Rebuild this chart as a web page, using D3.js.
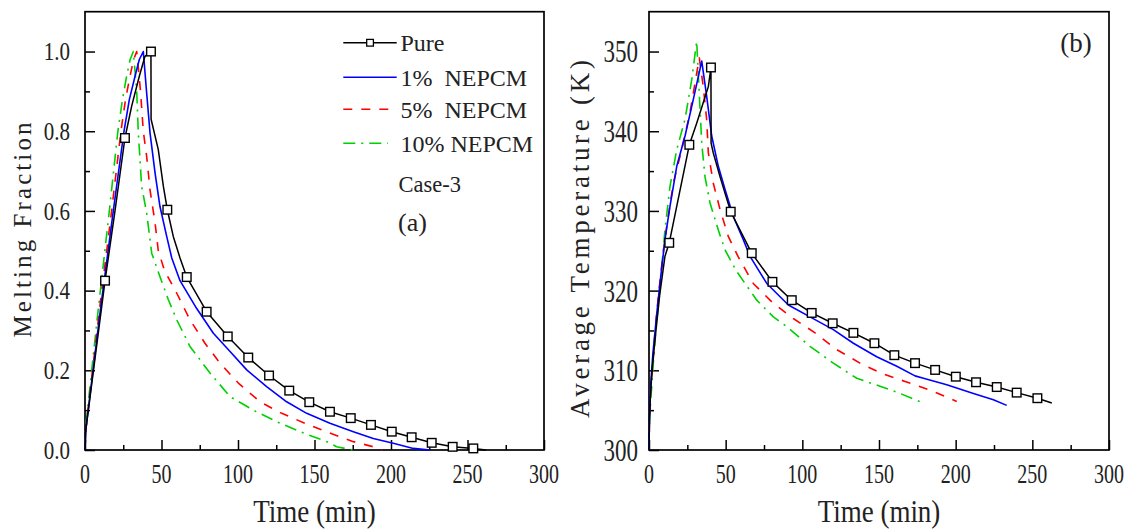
<!DOCTYPE html>
<html><head><meta charset="utf-8">
<script src="https://cdn.jsdelivr.net/npm/d3@7"></script>
<style>
html,body{margin:0;padding:0;background:#fff;}
svg{display:block;}
text{font-family:"Liberation Serif","Times New Roman",serif;fill:#222;}
</style></head><body>
<svg id="chart" width="1135" height="532"></svg>
<script>
// ---------- data ----------
const timeTicks = [0, 50, 100, 150, 200, 250, 300];
const timeMinor = [25, 75, 125, 175, 225, 275];
const meltTicks = [0, 0.2, 0.4, 0.6, 0.8, 1.0];
const meltMinor = [0.1, 0.3, 0.5, 0.7, 0.9];
const tempTicks = [300, 310, 320, 330, 340, 350];
const tempMinor = [305, 315, 325, 335, 345];
const seriesNames = ["Pure", "1%  NEPCM", "5%  NEPCM", "10% NEPCM"];

// (a) melting fraction vs time [min, fraction]
const meltPure = [[0,0],[0.5,0.05],[13.1,0.425],[19.6,0.6],[26.1,0.783],[30.5,0.863],[35.5,0.938],[39.2,0.988],[43.1,1.0],[43.2,0.83],[47.9,0.754],[51.2,0.662],[53.8,0.603],[57.7,0.536],[62.1,0.482],[66.5,0.434],[79.5,0.347],[93.3,0.285],[106.7,0.232],[120.3,0.187],[133.5,0.149],[146.6,0.120],[160.1,0.096],[173.7,0.080],[186.9,0.063],[200.5,0.046],[213.5,0.032],[226.6,0.018],[240.3,0.008],[253.8,0.004],[262,0]];
const meltPureMarks = [13.1,26.1,43.1,53.8,66.5,79.5,93.3,106.7,120.3,133.5,146.6,160.1,173.7,186.9,200.5,213.5,226.6,240.3,253.8];
const melt1 = [[0,0],[0.5,0.05],[10,0.35],[18.5,0.6],[25.5,0.8],[29,0.88],[32.7,0.938],[35.5,0.98],[38.1,1.0],[40.3,0.896],[42.5,0.796],[45.8,0.695],[49,0.611],[53.4,0.536],[56.7,0.482],[62.1,0.425],[73,0.355],[83.9,0.293],[94.8,0.247],[105.7,0.201],[118.7,0.159],[131.8,0.121],[144.9,0.092],[160.1,0.067],[175.4,0.046],[188.4,0.029],[201.5,0.017],[214.6,0.004],[225.5,0]];
const melt5 = [[0,0],[0.5,0.05],[10,0.37],[17.4,0.6],[23.5,0.8],[26.5,0.88],[29.4,0.938],[31.8,0.98],[33.8,1.0],[36.3,0.9],[38.1,0.8],[40.3,0.737],[42.5,0.653],[45.8,0.57],[47.9,0.5],[52,0.45],[59.9,0.394],[68.6,0.327],[78.4,0.268],[88.2,0.218],[100.2,0.168],[114.4,0.121],[128.6,0.092],[143.8,0.067],[159,0.044],[175.4,0.021],[189.5,0.007],[194,0]];
const melt10 = [[0,0],[0.5,0.06],[8,0.33],[15.9,0.6],[21.5,0.8],[24.5,0.88],[27.2,0.938],[29.5,0.98],[31.6,1.0],[33.8,0.9],[34.8,0.8],[37,0.662],[40.3,0.595],[43.6,0.494],[49,0.435],[54.5,0.377],[59.9,0.327],[68.6,0.26],[81.7,0.193],[94.8,0.134],[110,0.1],[125.3,0.071],[140.5,0.046],[158,0.021],[164.5,0.008],[175,0]];

// (b) average temperature vs time [min, K]
const tempPure = [[0,300],[0.3,304],[1,307],[2,310],[4,314],[7,319.5],[10.4,324.3],[13.2,326],[26.3,338.3],[31.1,341],[35.4,343.6],[38.7,345.6],[40.4,348],[40.5,338.5],[41.9,337.3],[46.3,334.3],[49.6,332.2],[53.3,329.9],[67,324.7],[80.5,321.1],[93.1,318.8],[106.1,317.2],[119.8,315.9],[133.3,314.7],[147,313.4],[160,311.9],[173.5,310.9],[186.6,310.05],[200.1,309.2],[213.3,308.5],[226.8,307.9],[239.8,307.2],[253.3,306.5],[262.7,305.9]];
const tempPureMarks = [13.2,26.3,40.4,53.3,67,80.5,93.1,106.1,119.8,133.3,147,160,173.5,186.6,200.1,213.3,226.8,239.8,253.3];
const temp1 = [[0,300],[0.3,304],[1,308],[2.5,312],[5,317],[7.5,321.5],[10.4,326.4],[13.7,330.6],[18.1,335.6],[23.5,339.4],[28.9,344],[34.4,348.8],[37.6,344.4],[40.9,339.4],[45.2,335.6],[49.6,332.7],[55,329.3],[61.5,326.4],[65.9,324.3],[76.8,320.9],[90.9,318.2],[105,316.7],[120.2,315.1],[133.3,313.4],[148.5,311.7],[161.6,310.5],[173.5,309.3],[179,309.0],[194.2,308.2],[211.6,307.1],[224.6,306.3],[233.3,305.6]];
const temp5 = [[0,300],[0.3,304],[1,307.5],[2.6,311],[4,315],[6.1,319.3],[8.5,323.5],[11.5,328],[15.9,333.5],[21.3,337.7],[26.7,342.3],[32.8,349.2],[35.4,345.6],[37.6,341.5],[38.7,337.3],[41.9,333.5],[46.3,330.2],[51.7,326.8],[58.3,324.2],[68,320.9],[81.1,318.4],[94.1,316.5],[108.3,314.7],[122.4,312.6],[137.6,310.9],[151.8,309.6],[167,308.6],[183.3,307.5],[200.7,306.1]];
const temp10 = [[0,300],[0.3,303],[0.7,305],[2.8,310.9],[4.5,315],[7,320],[10.4,327.6],[13.7,333.1],[18.1,337.7],[23.5,341.5],[27.9,346.5],[31.1,351.3],[32.2,346.9],[33.3,342.7],[34.4,338.5],[36.5,334.3],[39.8,331],[45.2,327.6],[49.6,325.1],[57.2,322.4],[70.3,318.8],[81.1,316.7],[89.8,315.5],[105,313],[120.2,310.9],[135.5,309],[150.7,308],[163.7,307.1],[179,305.9]];

// ---------- drawing ----------
const svg = d3.select("#chart");
const styles = [
  {color:"#000000", dash:null, width:1.5},
  {color:"#0000ff", dash:null, width:1.6},
  {color:"#ff0000", dash:"9,9", width:1.6},
  {color:"#00d000", dash:"12,6,2,6", width:1.6}
];

function scaledText(parent, x, y, str, size, sy, anchor, baseline) {
  const g = parent.append("g").attr("transform", `translate(${x},${y}) scale(1,${sy})`);
  g.append("text").attr("text-anchor", anchor).attr("dominant-baseline", baseline || "central")
    .style("font-size", size + "px").style("white-space","pre").text(str);
  return g;
}

function panel(cfg) {
  const x = d3.scaleLinear().domain([0, 300]).range([cfg.left, cfg.right]);
  const y = d3.scaleLinear().domain(cfg.yDomain).range([cfg.bottom, cfg.top]);
  const g = svg.append("g");

  const axStyle = sel => { sel.select(".domain").remove(); sel.selectAll("line").attr("stroke","#000").attr("stroke-width",1.5); sel.selectAll("text").remove(); };
  g.append("g").attr("transform", `translate(0,${cfg.bottom})`)
    .call(d3.axisBottom(x).tickValues(timeTicks).tickSize(-10).tickFormat("")).call(axStyle);
  g.append("g").attr("transform", `translate(0,${cfg.bottom})`)
    .call(d3.axisBottom(x).tickValues(timeMinor).tickSize(-5).tickFormat("")).call(axStyle);
  g.append("g").attr("transform", `translate(${cfg.left},0)`)
    .call(d3.axisLeft(y).tickValues(cfg.yTicks).tickSize(-10).tickFormat("")).call(axStyle);
  g.append("g").attr("transform", `translate(${cfg.left},0)`)
    .call(d3.axisLeft(y).tickValues(cfg.yMinor).tickSize(-5).tickFormat("")).call(axStyle);

  g.append("rect").attr("x", cfg.left).attr("y", cfg.top)
    .attr("width", cfg.right - cfg.left).attr("height", cfg.bottom - cfg.top)
    .attr("fill", "none").attr("stroke", "#000").attr("stroke-width", 1.7);

  timeTicks.forEach(v => scaledText(g, x(v), 474, String(v), 20, 1.35, "middle"));
  cfg.yTicks.forEach(v => scaledText(g, cfg.labelX, y(v), cfg.fmt(v), cfg.yFont, cfg.yScale, "end"));

  scaledText(g, (cfg.left + cfg.right) / 2, 521.5, "Time (min)", 27, 1.2, "middle", "alphabetic");
  g.append("text").attr("transform", `translate(${cfg.titleX},${cfg.titleY}) rotate(-90)`)
    .attr("text-anchor", "middle").style("font-size", cfg.titleFont + "px")
    .attr("textLength", cfg.titleLen).attr("lengthAdjust", "spacing")
    .text(cfg.yTitle);

  const line = d3.line().x(d => x(d[0])).y(d => y(d[1]));
  for (let i = cfg.series.length - 1; i >= 0; i--) {
    const s = styles[i];
    g.append("path").datum(cfg.series[i]).attr("d", line)
      .attr("fill", "none").attr("stroke", s.color).attr("stroke-width", s.width)
      .attr("stroke-dasharray", s.dash).attr("stroke-linejoin", "round");
  }
  const marks = cfg.series[0].filter(d => cfg.marks.includes(d[0]));
  g.selectAll("rect.mk").data(marks).enter().append("rect").attr("class","mk")
    .attr("x", d => x(d[0]) - 4.3).attr("y", d => y(d[1]) - 4.3)
    .attr("width", 8.6).attr("height", 8.6)
    .attr("fill", "#fff").attr("stroke", "#000").attr("stroke-width", 1.4);
  return g;
}

panel({
  left: 85, right: 544, top: 11.7, bottom: 450,
  yDomain: [0, 1.1], yTicks: meltTicks, yMinor: meltMinor,
  fmt: d3.format(".1f"), labelX: 70, yFont: 21, yScale: 1.2,
  yTitle: "Melting Fraction", titleX: 31, titleY: 230, titleFont: 25, titleLen: 215,
  series: [meltPure, melt1, melt5, melt10], marks: meltPureMarks
});
panel({
  left: 649, right: 1109, top: 11.7, bottom: 450,
  yDomain: [300, 355], yTicks: tempTicks, yMinor: tempMinor,
  fmt: d3.format("d"), labelX: 638, yFont: 23, yScale: 1.4,
  yTitle: "Average Temperature (K)", titleX: 589, titleY: 239, titleFont: 27, titleLen: 358,
  series: [tempPure, temp1, temp5, temp10], marks: tempPureMarks
});

const legY = [42.7, 77.3, 109.3, 143.3];
const legEnd = [396.7, 396.7, 393, 388];
const lg = svg.append("g");
seriesNames.forEach((name, i) => {
  const s = styles[i];
  lg.append("line").attr("x1", 343.3).attr("x2", legEnd[i]).attr("y1", legY[i]).attr("y2", legY[i])
    .attr("stroke", s.color).attr("stroke-width", s.width).attr("stroke-dasharray", s.dash);
  if (i === 0) lg.append("rect").attr("x", 366.7).attr("y", legY[i] - 3.3).attr("width", 6.7).attr("height", 6.7)
    .attr("fill", "#fff").attr("stroke", "#000").attr("stroke-width", 1.3);
  lg.append("text").attr("x", 400.5).attr("y", legY[i] + 8.5).style("font-size", "24px")
    .style("white-space", "pre").text(name);
});
lg.append("text").attr("x", 398.5).attr("y", 191.7).style("font-size", "22.5px").text("Case-3");
lg.append("text").attr("x", 398).attr("y", 231).style("font-size", "26px").text("(a)");
svg.append("text").attr("x", 1076).attr("y", 52).attr("text-anchor", "middle").style("font-size", "27px").text("(b)");
</script>
</body></html>
